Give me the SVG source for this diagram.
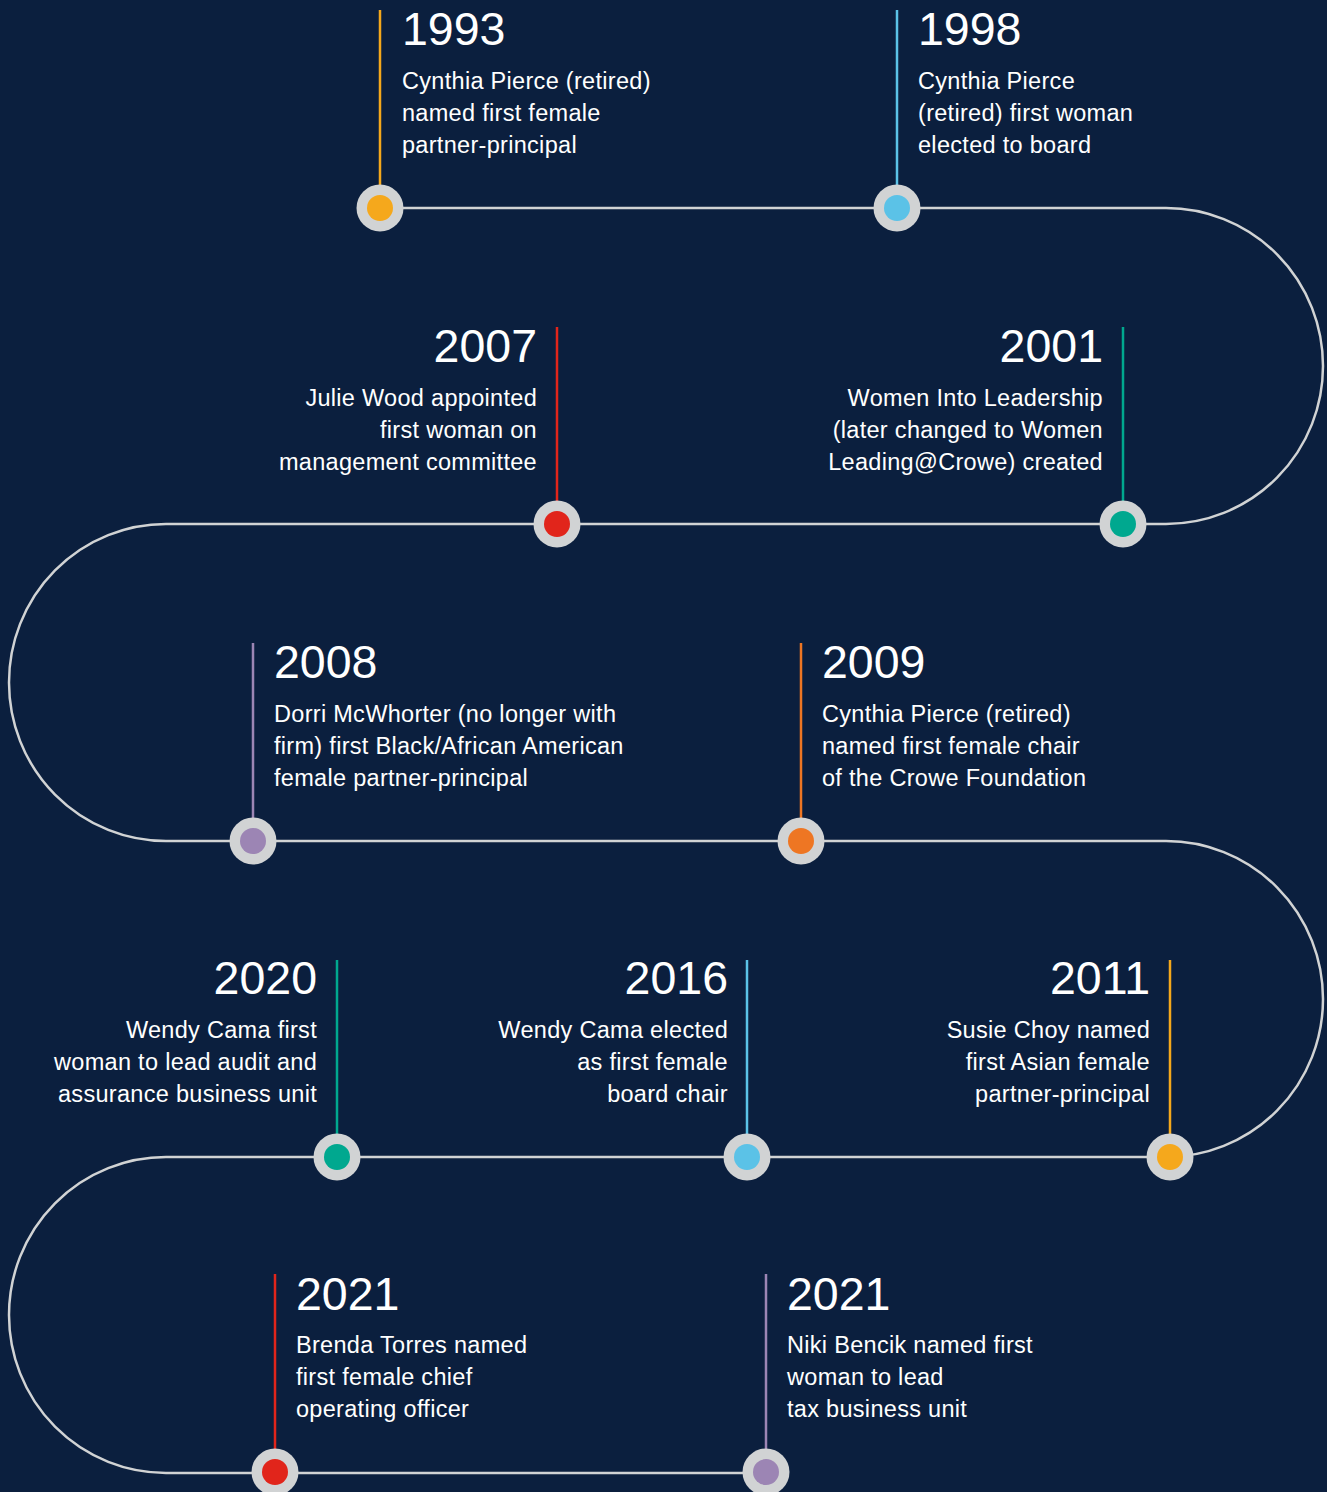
<svg xmlns="http://www.w3.org/2000/svg" width="1327" height="1492" viewBox="0 0 1327 1492">
<style>
.bg{fill:#0b1f3e}
.track{fill:none;stroke:#d1d3d4;stroke-width:2.5}
.ring{fill:#d1d3d4}
.yr{font-family:"Liberation Sans",Arial,sans-serif;font-size:46.5px;fill:#ffffff}
.tx{font-family:"Liberation Sans",Arial,sans-serif;font-size:23.5px;letter-spacing:0.3px;fill:#ffffff}
.r{text-anchor:end}
.stem{stroke-width:2.5}
</style>
<rect class="bg" x="0" y="0" width="1327" height="1492"/>
<g id="connectors">
<path class="track" d="M380 208 H1166 A157 158 0 0 1 1166 524 H166 A157 158.5 0 0 0 166 841 H1166 A157 158 0 0 1 1166 1157 H166 A157 158 0 0 0 166 1473 H766"/>
</g>
<g id="n1993">
<line class="stem" x1="380" y1="10" x2="380" y2="190" stroke="#f5a81c"/>
<circle class="ring" cx="380" cy="208" r="23.5"/>
<circle cx="380" cy="208" r="13" fill="#f5a81c"/>
<text class="yr" x="402" y="45">1993</text>
<text class="tx" x="402" y="89">Cynthia Pierce (retired)</text>
<text class="tx" x="402" y="121">named first female</text>
<text class="tx" x="402" y="153">partner-principal</text>
</g>
<g id="n1998">
<line class="stem" x1="897" y1="10" x2="897" y2="190" stroke="#5bc2e7"/>
<circle class="ring" cx="897" cy="208" r="23.5"/>
<circle cx="897" cy="208" r="13" fill="#5bc2e7"/>
<text class="yr" x="918" y="45">1998</text>
<text class="tx" x="918" y="89">Cynthia Pierce</text>
<text class="tx" x="918" y="121">(retired) first woman</text>
<text class="tx" x="918" y="153">elected to board</text>
</g>
<g id="n2007">
<line class="stem" x1="557" y1="327" x2="557" y2="506" stroke="#e1251b"/>
<circle class="ring" cx="557" cy="524" r="23.5"/>
<circle cx="557" cy="524" r="13" fill="#e1251b"/>
<text class="yr r" x="537" y="362">2007</text>
<text class="tx r" x="537" y="406">Julie Wood appointed</text>
<text class="tx r" x="537" y="438">first woman on</text>
<text class="tx r" x="537" y="470">management committee</text>
</g>
<g id="n2001">
<line class="stem" x1="1123" y1="327" x2="1123" y2="506" stroke="#00a88f"/>
<circle class="ring" cx="1123" cy="524" r="23.5"/>
<circle cx="1123" cy="524" r="13" fill="#00a88f"/>
<text class="yr r" x="1103" y="362">2001</text>
<text class="tx r" x="1103" y="406">Women Into Leadership</text>
<text class="tx r" x="1103" y="438">(later changed to Women</text>
<text class="tx r" x="1103" y="470">Leading@Crowe) created</text>
</g>
<g id="n2008">
<line class="stem" x1="253" y1="643" x2="253" y2="823" stroke="#9c85b4"/>
<circle class="ring" cx="253" cy="841" r="23.5"/>
<circle cx="253" cy="841" r="13" fill="#9c85b4"/>
<text class="yr" x="274" y="678">2008</text>
<text class="tx" x="274" y="722">Dorri McWhorter (no longer with</text>
<text class="tx" x="274" y="754">firm) first Black/African American</text>
<text class="tx" x="274" y="786">female partner-principal</text>
</g>
<g id="n2009">
<line class="stem" x1="801" y1="643" x2="801" y2="823" stroke="#ee7623"/>
<circle class="ring" cx="801" cy="841" r="23.5"/>
<circle cx="801" cy="841" r="13" fill="#ee7623"/>
<text class="yr" x="822" y="678">2009</text>
<text class="tx" x="822" y="722">Cynthia Pierce (retired)</text>
<text class="tx" x="822" y="754">named first female chair</text>
<text class="tx" x="822" y="786">of the Crowe Foundation</text>
</g>
<g id="n2020">
<line class="stem" x1="337" y1="960" x2="337" y2="1139" stroke="#00a88f"/>
<circle class="ring" cx="337" cy="1157" r="23.5"/>
<circle cx="337" cy="1157" r="13" fill="#00a88f"/>
<text class="yr r" x="317" y="994">2020</text>
<text class="tx r" x="317" y="1038">Wendy Cama first</text>
<text class="tx r" x="317" y="1070">woman to lead audit and</text>
<text class="tx r" x="317" y="1102">assurance business unit</text>
</g>
<g id="n2016">
<line class="stem" x1="747" y1="960" x2="747" y2="1139" stroke="#5bc2e7"/>
<circle class="ring" cx="747" cy="1157" r="23.5"/>
<circle cx="747" cy="1157" r="13" fill="#5bc2e7"/>
<text class="yr r" x="728" y="994">2016</text>
<text class="tx r" x="728" y="1038">Wendy Cama elected</text>
<text class="tx r" x="728" y="1070">as first female</text>
<text class="tx r" x="728" y="1102">board chair</text>
</g>
<g id="n2011">
<line class="stem" x1="1170" y1="960" x2="1170" y2="1139" stroke="#f5a81c"/>
<circle class="ring" cx="1170" cy="1157" r="23.5"/>
<circle cx="1170" cy="1157" r="13" fill="#f5a81c"/>
<text class="yr r" x="1150" y="994">2011</text>
<text class="tx r" x="1150" y="1038">Susie Choy named</text>
<text class="tx r" x="1150" y="1070">first Asian female</text>
<text class="tx r" x="1150" y="1102">partner-principal</text>
</g>
<g id="n2021a">
<line class="stem" x1="275" y1="1274" x2="275" y2="1455" stroke="#e1251b"/>
<circle class="ring" cx="275" cy="1472" r="23.5"/>
<circle cx="275" cy="1472" r="13" fill="#e1251b"/>
<text class="yr" x="296" y="1310">2021</text>
<text class="tx" x="296" y="1353">Brenda Torres named</text>
<text class="tx" x="296" y="1385">first female chief</text>
<text class="tx" x="296" y="1417">operating officer</text>
</g>
<g id="n2021b">
<line class="stem" x1="766" y1="1274" x2="766" y2="1455" stroke="#9c85b4"/>
<circle class="ring" cx="766" cy="1472" r="23.5"/>
<circle cx="766" cy="1472" r="13" fill="#9c85b4"/>
<text class="yr" x="787" y="1310">2021</text>
<text class="tx" x="787" y="1353">Niki Bencik named first</text>
<text class="tx" x="787" y="1385">woman to lead</text>
<text class="tx" x="787" y="1417">tax business unit</text>
</g>
</svg>
